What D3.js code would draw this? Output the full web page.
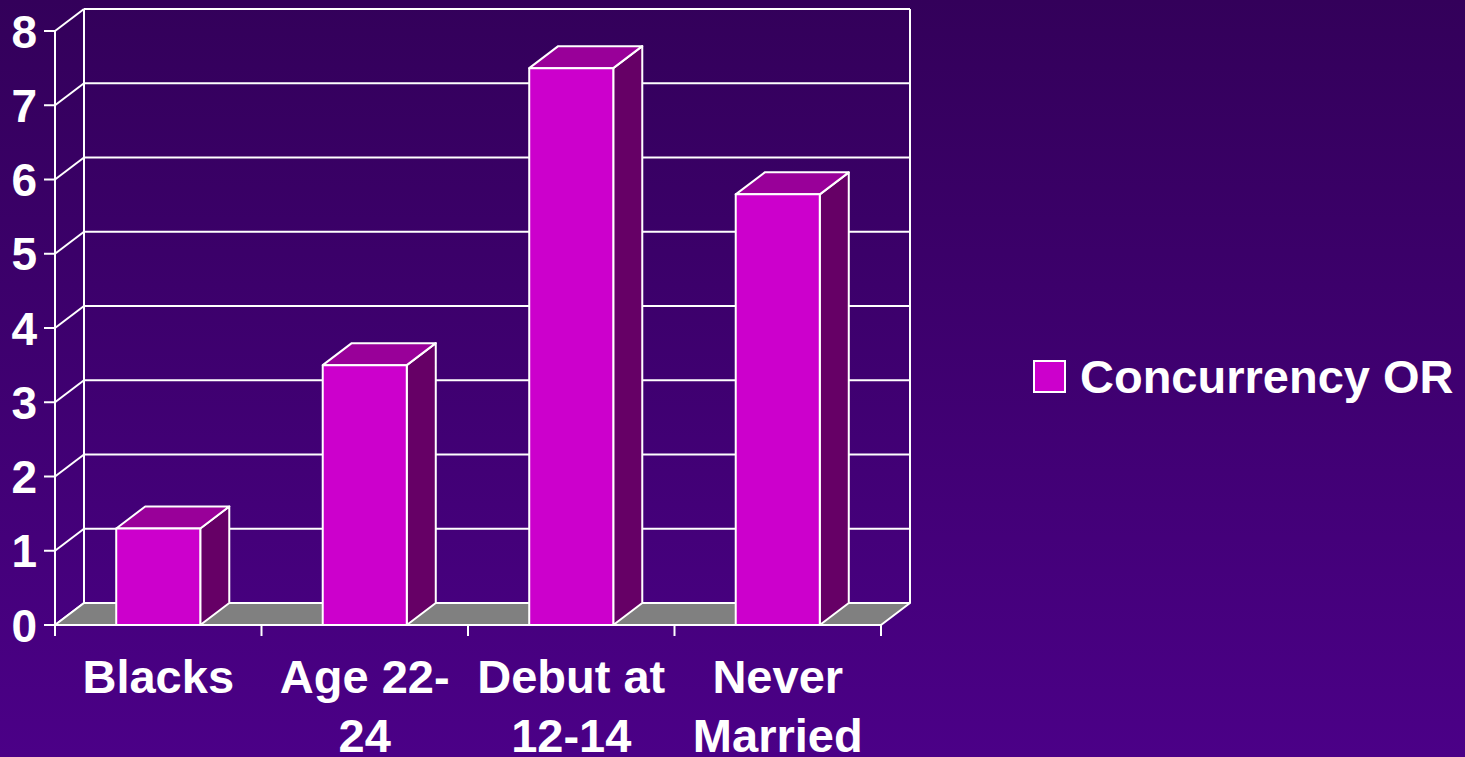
<!DOCTYPE html>
<html><head><meta charset="utf-8">
<script src="https://cdn.jsdelivr.net/npm/d3@7"></script>
<style>html,body{margin:0;padding:0;overflow:hidden;background:#3f006e;}</style>
</head><body>
<script>
const categories = [["Blacks"], ["Age 22-", "24"], ["Debut at", "12-14"], ["Never", "Married"]];
const categoryKeys = ["Blacks", "Age 22-24", "Debut at 12-14", "Never Married"];
const values = [1.3, 3.5, 7.5, 5.8];
const yTicks = [0, 1, 2, 3, 4, 5, 6, 7, 8];
const seriesName = "Concurrency OR";

const W = 1465, H = 757;
const svg = d3.select("body").append("svg").attr("width", W).attr("height", H)
  .style("font-family", "'Liberation Sans', Arial, sans-serif");

const defs = svg.append("defs");
const grad = defs.append("linearGradient").attr("id", "bg").attr("x1", 0).attr("y1", 0).attr("x2", 0).attr("y2", 1);
grad.append("stop").attr("offset", "0%").attr("stop-color", "#33005a");
grad.append("stop").attr("offset", "100%").attr("stop-color", "#4b0087");
svg.append("rect").attr("width", W).attr("height", H).attr("fill", "url(#bg)");

const x = d3.scaleBand().domain(categoryKeys).range([55, 881]).padding(0);
const y = d3.scaleLinear().domain([0, 8]).range([625, 31]);
const dx = 29, dy = -22;
const barW = x.bandwidth() * 0.407;
const lineCol = "#ffffff";

const g = svg.append("g");
yTicks.forEach(t => {
  if (t > 0) {
    g.append("line").attr("x1", x.range()[0] + dx).attr("x2", x.range()[1] + dx)
      .attr("y1", y(t) + dy).attr("y2", y(t) + dy).attr("stroke", lineCol).attr("stroke-width", 2);
  }
  g.append("line").attr("x1", 55).attr("y1", y(t)).attr("x2", 55 + dx).attr("y2", y(t) + dy)
    .attr("stroke", lineCol).attr("stroke-width", 2);
  g.append("line").attr("x1", 44).attr("x2", 55).attr("y1", y(t)).attr("y2", y(t))
    .attr("stroke", lineCol).attr("stroke-width", 2);
  g.append("text").attr("x", 37).attr("y", y(t)).attr("dy", "0.36em").attr("text-anchor", "end")
    .attr("fill", "#fff").attr("font-weight", "bold").attr("font-size", 46).text(t);
});
g.append("line").attr("x1", 55 + dx).attr("x2", 55 + dx).attr("y1", y(8) + dy).attr("y2", y(0) + dy).attr("stroke", lineCol).attr("stroke-width", 2);
g.append("line").attr("x1", 881 + dx).attr("x2", 881 + dx).attr("y1", y(8) + dy).attr("y2", y(0) + dy).attr("stroke", lineCol).attr("stroke-width", 2);
g.append("line").attr("x1", 55).attr("x2", 55).attr("y1", y(8)).attr("y2", y(0)).attr("stroke", lineCol).attr("stroke-width", 2);

const fl = [[55, y(0)], [881, y(0)], [881 + dx, y(0) + dy], [55 + dx, y(0) + dy]];
g.append("polygon").attr("points", fl.map(p => p.join(",")).join(" "))
  .attr("fill", "#808080").attr("stroke", lineCol).attr("stroke-width", 2).attr("stroke-linejoin", "round");

const bounds = [55].concat(categoryKeys.map(c => x(c) + x.bandwidth()));
bounds.forEach(b => {
  g.append("line").attr("x1", b).attr("x2", b).attr("y1", y(0)).attr("y2", y(0) + 11)
    .attr("stroke", lineCol).attr("stroke-width", 2);
});

const bars = svg.append("g");
categoryKeys.forEach((c, i) => {
  const cx = x(c) + x.bandwidth() / 2;
  const x0 = cx - barW / 2, x1 = cx + barW / 2;
  const yt = y(values[i]), yb = y(0);
  const bg = bars.append("g").attr("stroke", "#fff").attr("stroke-width", 2).attr("stroke-linejoin", "round");
  bg.append("polygon").attr("points", [[x1, yt], [x1 + dx, yt + dy], [x1 + dx, yb + dy], [x1, yb]].map(p => p.join(",")).join(" "))
    .attr("fill", "#660066");
  bg.append("polygon").attr("points", [[x0, yt], [x1, yt], [x1 + dx, yt + dy], [x0 + dx, yt + dy]].map(p => p.join(",")).join(" "))
    .attr("fill", "#990099");
  bg.append("rect").attr("x", x0).attr("y", yt).attr("width", barW).attr("height", yb - yt)
    .attr("fill", "#cc00cc");
});

categories.forEach((lines, i) => {
  const cx = x(categoryKeys[i]) + x.bandwidth() / 2;
  const t = svg.append("text").attr("x", cx).attr("y", 693).attr("text-anchor", "middle")
    .attr("fill", "#fff").attr("font-weight", "bold").attr("font-size", 47);
  lines.forEach((l, j) => t.append("tspan").attr("x", cx).attr("dy", j === 0 ? 0 : 59).text(l));
});

svg.append("rect").attr("x", 1034).attr("y", 361).attr("width", 31).attr("height", 31)
  .attr("fill", "#cc00cc").attr("stroke", "#fff").attr("stroke-width", 2);
svg.append("text").attr("x", 1080).attr("y", 393).attr("fill", "#fff").attr("font-weight", "bold")
  .attr("font-size", 47).text(seriesName);
</script>
</body></html>
